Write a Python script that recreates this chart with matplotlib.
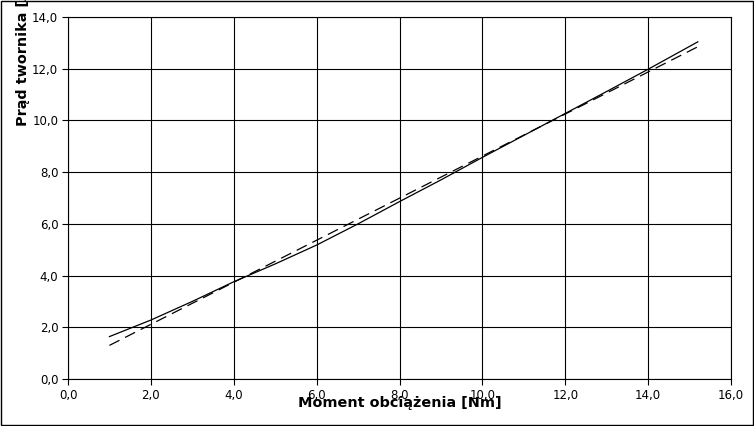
import matplotlib
matplotlib.use("Agg")
import matplotlib.pyplot as plt
from matplotlib.patches import Rectangle
from matplotlib.ticker import FuncFormatter, MultipleLocator

# measured armature current vs load torque
moment = [1.0, 2.0, 3.0, 4.0, 5.0, 6.0, 7.0, 8.0, 9.0, 10.0, 11.0, 12.0, 13.0, 14.0, 15.2]
prad = [1.64, 2.28, 3.0, 3.76, 4.45, 5.18, 6.0, 6.86, 7.7, 8.57, 9.42, 10.27, 11.12, 11.98, 13.04]

# linear approximation (dashed)
moment_fit = [1.0, 15.2]
prad_fit = [1.3, 12.85]

fig = plt.figure(figsize=(7.54, 4.26), dpi=100)
ax = fig.add_axes([68 / 754, 47 / 426, 663 / 754, 362 / 426])

ax.plot(moment, prad, color="black", lw=0.9)
ax.plot(moment_fit, prad_fit, color="black", lw=0.9, dashes=(9, 5))

ax.set_xlim(0, 16)
ax.set_ylim(0, 14)
ax.xaxis.set_major_locator(MultipleLocator(2))
ax.yaxis.set_major_locator(MultipleLocator(2))
fmt = FuncFormatter(lambda v, p: f"{v:.1f}".replace(".", ","))
ax.xaxis.set_major_formatter(fmt)
ax.yaxis.set_major_formatter(fmt)
ax.grid(True, color="black", lw=0.8)
ax.tick_params(direction="out", length=4, width=0.8, labelsize=8.5, pad=3)
for s in ax.spines.values():
    s.set_linewidth(0.8)

fig.text(399.5 / 754, 1 - 403 / 426, "Moment obciążenia [Nm]",
         ha="center", va="center", fontsize=10.4, fontweight="bold")
fig.text(23 / 754, 1 - 126 / 426, "Prąd twornika [A]", rotation=90,
         ha="center", va="bottom", fontsize=10.4, fontweight="bold")

fig.add_artist(Rectangle((0.5 / 754, 1.5 / 426), 752 / 754, 424 / 426,
                         transform=fig.transFigure, fill=False,
                         edgecolor="black", lw=1))

fig.savefig("out.png", dpi=100)
